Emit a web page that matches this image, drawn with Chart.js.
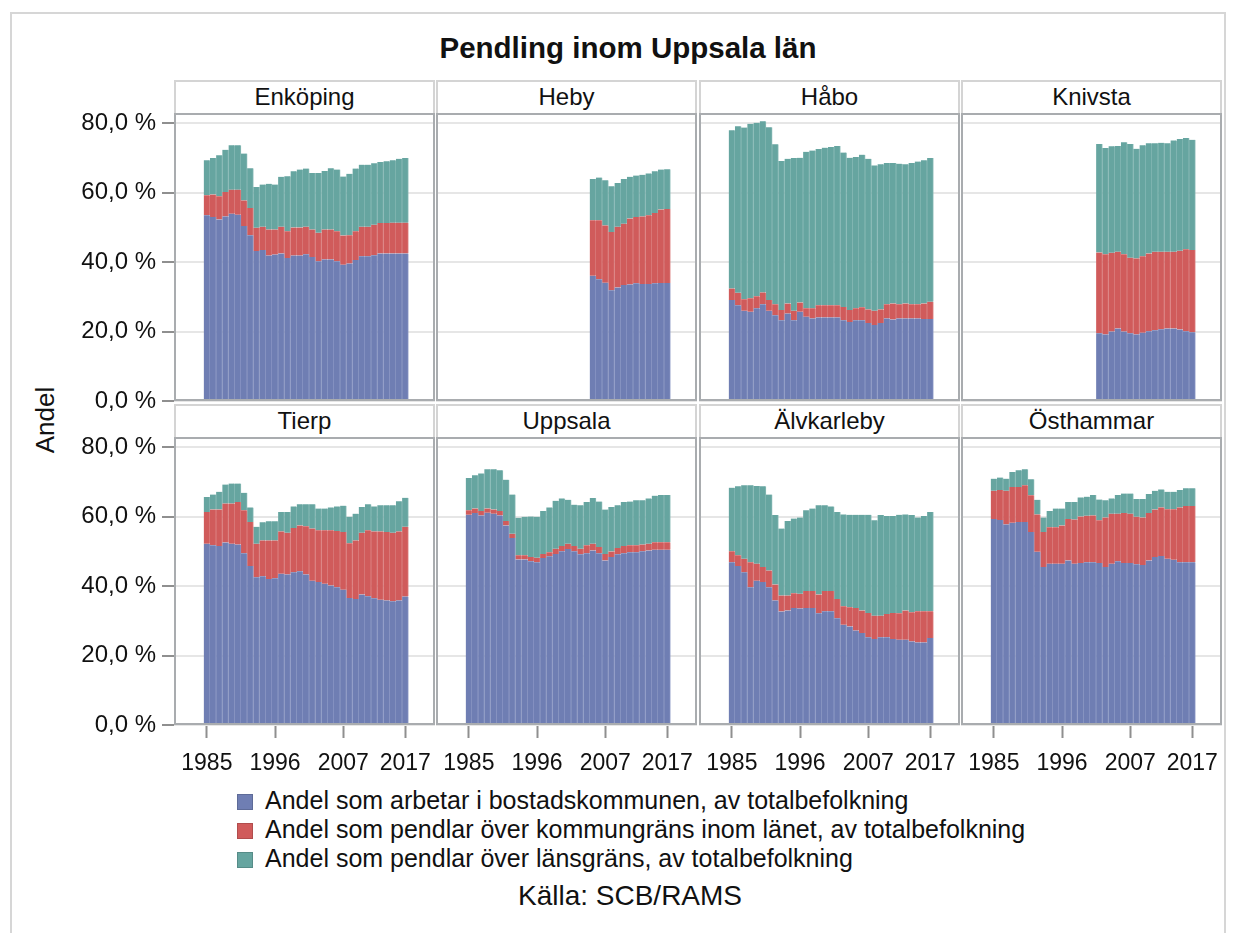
<!DOCTYPE html>
<html>
<head>
<meta charset="utf-8">
<script src="https://cdn.jsdelivr.net/npm/chart.js@4.4.1/dist/chart.umd.min.js"></script>
<style>
  body { margin: 0; background: #fff; font-family: "Liberation Sans", Arial, sans-serif; color: #111; }
  #page { position: relative; width: 1234px; height: 933px; overflow: hidden; }
  #frame { position: absolute; left: 10px; top: 12px; width: 1216px; height: 1000px; box-sizing: border-box; border: 2px solid #d6d6d6; }
  #title { position: absolute; left: 0; width: 1256px; top: 31px; text-align: center; font-weight: bold; font-size: 29.5px; }
  .strip { position: absolute; box-sizing: border-box; height: 34px; border: 2px solid #d4d4d4; border-bottom: none;
           background: #fff; text-align: center; font-size: 24px; line-height: 30px; }
  canvas { position: absolute; }
  #ylab { position: absolute; left: 45px; top: 420px; font-size: 26px; transform: translate(-50%, -50%) rotate(-90deg); }
  #legend { position: absolute; left: 237px; top: 786px; font-size: 25px; }
  .item { height: 29px; line-height: 29px; white-space: nowrap; }
  .sw { display: inline-block; width: 16px; height: 16px; margin-right: 12px; vertical-align: -1px; box-sizing: border-box; border: 1px solid rgba(0,0,0,0.15); }
  #source { position: absolute; left: 0; width: 1260px; top: 880px; text-align: center; font-size: 28px; }
</style>
</head>
<body>
<div id="page">
  <div id="frame"></div>
  <div id="title">Pendling inom Uppsala län</div>
  <div id="ylab">Andel</div>
  <div id="legend"></div>
  <div id="source">Källa: SCB/RAMS</div>
</div>
<script>
// years
const years = [1985,1986,1987,1988,1989,1990,1991,1992,1993,1994,1995,1996,1997,1998,1999,2000,
               2001,2002,2003,2004,2005,2006,2007,2008,2009,2010,2011,2012,2013,2014,2015,2016,2017];
const yearsHeby = [2005,2006,2007,2008,2009,2010,2011,2012,2013,2014,2015,2016,2017];
const yearsKnivsta = [2002,2003,2004,2005,2006,2007,2008,2009,2010,2011,2012,2013,2014,2015,2016,2017];

const kommuner = ["Enköping", "Heby", "Håbo", "Knivsta", "Tierp", "Uppsala", "Älvkarleby", "Östhammar"];
const seriesNames = [
  "Andel som arbetar i bostadskommunen, av totalbefolkning",
  "Andel som pendlar över kommungräns inom länet, av totalbefolkning",
  "Andel som pendlar över länsgräns, av totalbefolkning"
];
const yTicks = [0, 20, 40, 60, 80];
const xTicks = [1985, 1996, 2007, 2017];

// andel (%) per kommun: bostadskommun / inom länet / över länsgräns
const enkBostad = [53.5,53.0,52.3,53.2,54.0,53.7,50.4,47.8,43.2,43.5,41.9,42.2,42.5,41.2,41.9,41.9,42.3,41.5,40.3,40.8,40.8,40.3,39.3,39.6,40.6,41.7,41.7,42.0,42.5,42.5,42.5,42.5,42.5];
const enkLan    = [5.8,6.5,6.7,7.0,6.9,7.2,7.4,7.8,6.7,6.7,7.5,7.2,7.7,7.7,8.1,8.1,7.9,7.9,8.2,8.6,8.6,8.6,8.4,8.2,8.3,8.5,8.5,8.8,8.8,8.8,8.9,8.9,8.9];
const enkUt     = [10.1,10.5,11.8,12.2,12.8,12.8,13.5,11.5,11.8,12.2,13.2,13.0,14.4,15.9,16.2,16.7,16.8,16.3,17.2,16.9,17.7,17.8,17.0,17.7,18.1,17.9,17.9,17.7,17.6,17.8,18.0,18.4,18.6];

const hebBostad = [36.1,35.1,34.1,31.9,32.7,33.4,33.6,33.9,33.7,33.7,33.9,34.0,34.0];
const hebLan    = [16.0,17.0,16.5,16.8,17.5,17.7,19.0,19.1,19.5,19.8,20.3,21.2,21.3];
const hebUt     = [11.9,12.3,13.0,13.2,12.6,12.9,12.0,12.0,12.0,12.1,12.0,11.5,11.5];

const habBostad = [29.1,27.6,26.0,25.7,26.7,27.9,26.0,24.7,23.3,25.2,23.3,25.7,24.3,23.8,24.1,24.1,24.1,24.1,23.3,22.8,23.3,23.3,22.5,21.9,22.5,23.8,23.5,23.8,23.8,23.8,23.8,23.6,23.6];
const habLan    = [3.3,3.6,3.3,3.9,3.5,3.4,3.1,3.2,2.9,2.9,2.7,2.7,2.4,2.9,3.5,3.5,3.5,3.5,3.8,3.4,3.4,3.7,3.9,4.1,3.9,4.1,4.6,4.1,4.3,4.1,4.1,4.5,5.0];
const habUt     = [45.6,48.0,49.5,50.3,50.0,49.3,49.8,46.1,43.0,41.7,44.0,41.7,45.1,45.5,45.0,45.4,45.6,45.9,44.5,43.9,43.6,44.0,43.4,41.9,41.8,40.7,40.5,40.5,40.1,40.7,41.1,41.3,41.4];

const kniBostad = [19.5,19.2,20.0,20.9,20.0,19.5,19.2,19.7,20.1,20.4,20.7,20.9,20.9,20.6,20.1,19.8];
const kniLan    = [23.3,23.1,22.7,22.1,22.3,21.8,21.9,22.0,22.4,22.6,22.3,22.1,22.1,22.7,23.6,23.7];
const kniUt     = [31.3,30.6,30.7,30.5,32.3,32.8,31.6,32.0,31.8,31.3,31.4,31.3,32.1,32.2,32.1,31.8];

const tieBostad = [52.2,51.8,51.6,52.6,52.2,52.0,49.5,45.8,42.6,42.9,42.1,42.3,43.6,43.4,44.0,44.3,43.4,41.6,41.2,40.7,40.2,39.7,39.0,36.6,36.3,37.6,37.1,36.5,36.1,35.9,35.7,35.9,37.0];
const tieLan    = [9.2,10.3,10.5,11.2,11.6,12.3,12.4,12.7,9.6,10.3,11.1,10.9,12.2,12.0,12.8,13.2,13.9,15.0,14.9,15.4,15.9,16.2,16.6,15.8,16.9,17.8,19.0,19.3,19.7,19.7,19.7,19.9,20.1];
const tieUt     = [4.3,4.3,5.1,5.5,5.8,5.3,5.0,4.2,4.9,5.2,5.5,5.5,5.6,6.0,6.2,6.1,6.3,7.0,6.3,6.3,6.6,7.1,7.6,7.6,7.7,7.4,7.5,7.2,7.5,7.7,7.9,8.7,8.4];

const uppBostad = [60.6,61.1,60.4,61.2,60.9,60.4,57.5,53.9,47.7,47.7,47.2,46.9,48.1,48.6,49.3,50.1,50.7,50.1,49.2,49.5,50.3,49.5,47.4,48.4,49.2,49.5,49.8,49.8,50.1,50.3,50.5,50.5,50.5];
const uppLan    = [1.3,1.3,1.3,1.2,1.2,1.3,1.3,1.2,1.2,1.2,1.2,1.3,1.2,1.2,1.5,1.5,1.5,1.5,1.6,2.3,1.9,1.8,1.9,1.6,1.8,2.1,2.0,2.0,1.9,1.9,2.2,2.2,2.2];
const uppUt     = [9.3,9.6,10.8,11.3,11.6,11.7,11.9,11.3,10.8,11.1,11.7,11.8,12.4,12.9,13.8,13.7,12.7,11.9,12.5,12.5,13.2,13.1,12.8,12.8,12.3,12.7,12.6,13.0,12.8,13.1,13.4,13.6,13.6];

const alvBostad = [46.9,45.8,44.0,39.7,41.6,41.2,39.7,35.9,32.7,33.0,33.7,33.6,33.7,33.7,32.2,32.8,32.8,30.8,28.9,28.4,27.2,26.5,25.3,24.8,25.3,25.3,24.8,24.6,24.6,24.1,23.8,23.8,25.1];
const alvLan    = [3.2,3.1,3.9,7.2,4.9,4.3,4.8,4.6,4.6,4.3,4.3,4.2,4.9,4.9,5.4,5.8,5.8,5.5,5.3,5.5,6.5,6.5,7.0,6.7,6.2,6.7,7.5,7.6,8.4,8.4,9.0,9.0,7.7];
const alvUt     = [18.3,19.9,21.2,22.2,22.4,23.3,21.9,20.0,19.3,21.5,21.5,22.0,23.3,23.8,25.7,24.7,24.4,25.1,26.5,26.7,26.9,27.6,28.3,27.5,29.0,28.2,27.9,28.4,27.7,28.0,27.0,27.4,28.6];

const ostBostad = [59.4,59.1,57.8,58.3,58.5,58.5,55.6,49.9,45.5,46.5,46.5,46.5,47.4,46.5,46.7,46.9,46.9,46.7,45.5,46.5,47.2,46.7,46.7,46.3,46.1,47.4,48.4,48.7,47.9,47.6,46.9,46.9,46.9];
const ostLan    = [8.1,8.6,9.7,10.3,10.1,10.6,10.6,10.8,10.1,10.5,10.5,11.0,12.0,12.7,13.4,13.4,13.5,12.3,14.3,14.4,13.7,14.4,14.2,13.7,13.7,13.7,13.7,14.0,14.3,14.6,15.8,16.2,16.2];
const ostUt     = [3.5,3.6,3.5,4.3,4.8,4.6,4.6,4.2,4.2,4.7,5.4,4.9,4.9,5.1,5.5,5.5,5.9,6.0,5.0,4.4,5.4,5.6,5.8,5.1,5.3,5.5,5.4,5.2,5.0,5.0,5.0,5.1,5.1];

const panels = [
  { years: years,        values: [enkBostad, enkLan, enkUt] },
  { years: yearsHeby,    values: [hebBostad, hebLan, hebUt] },
  { years: years,        values: [habBostad, habLan, habUt] },
  { years: yearsKnivsta, values: [kniBostad, kniLan, kniUt] },
  { years: years,        values: [tieBostad, tieLan, tieUt] },
  { years: years,        values: [uppBostad, uppLan, uppUt] },
  { years: years,        values: [alvBostad, alvLan, alvUt] },
  { years: years,        values: [ostBostad, ostLan, ostUt] }
];

// utseende
const FILL = ["#6f7eb3", "#d05b5b", "#66a5a0"];
const EDGE = ["#8d99c5", "#dc8080", "#88bab6"];
const FRAME = "#a9acaf";
const GRID = "#e6e6e6";

const COL_X = [174, 436, 699, 961];
const ROW_Y = [113, 437];
const PW = 261, PH = 288;
const AXIS_W = 114, AXIS_H = 62, M = 20, R = 10;
const X_MIN = 1979.7, X_MAX = 2021.8, Y_MAX = 83;

Chart.defaults.font.family = '"Liberation Sans", Arial, sans-serif';
Chart.defaults.color = "#111";

function zeroPad(s) {
  s.paddingLeft = 0; s.paddingRight = 0; s.paddingTop = 0; s.paddingBottom = 0;
}

const framePlugin = {
  id: "frame",
  afterDraw(chart) {
    const { ctx, chartArea: a } = chart;
    ctx.save();
    ctx.strokeStyle = FRAME;
    ctx.lineWidth = 2;
    ctx.strokeRect(a.left + 1, a.top + 1, a.right - a.left - 2, a.bottom - a.top - 2);
    ctx.restore();
  }
};

const page = document.getElementById("page");

// legend
const legend = document.getElementById("legend");
seriesNames.forEach((name, s) => {
  const row = document.createElement("div");
  row.className = "item";
  row.innerHTML = `<span class="sw" style="background:${FILL[s]}"></span>${name}`;
  legend.appendChild(row);
});

panels.forEach((p, idx) => {
  const col = idx % 4, row = Math.floor(idx / 4);
  const isLeft = col === 0, isBottom = row === 1;

  const strip = document.createElement("div");
  strip.className = "strip";
  strip.style.left = COL_X[col] + "px";
  strip.style.top = (ROW_Y[row] - 33) + "px";
  strip.style.width = PW + "px";
  strip.textContent = kommuner[idx];
  page.appendChild(strip);

  const padL = isLeft ? AXIS_W : 0;
  const canvas = document.createElement("canvas");
  canvas.width = padL + PW + R;
  canvas.height = M + PH + (isBottom ? AXIS_H : M);
  canvas.style.left = (COL_X[col] - padL) + "px";
  canvas.style.top = (ROW_Y[row] - M) + "px";
  page.appendChild(canvas);

  new Chart(canvas, {
    type: "bar",
    data: {
      datasets: seriesNames.map((name, s) => ({
        label: name,
        data: p.years.map((yr, i) => ({ x: yr, y: p.values[s][i] })),
        backgroundColor: FILL[s],
        borderColor: EDGE[s],
        borderWidth: { left: 0, right: 1, top: 0, bottom: 0 },
        borderSkipped: false,
        barPercentage: 1,
        categoryPercentage: 1
      }))
    },
    options: {
      responsive: false,
      animation: false,
      devicePixelRatio: 1,
      layout: { padding: { top: M, bottom: isBottom ? 0 : M, left: 0, right: R } },
      plugins: { legend: { display: false }, tooltip: { enabled: false } },
      scales: {
        x: {
          type: "linear",
          stacked: true,
          offset: false,
          min: X_MIN,
          max: X_MAX,
          display: isBottom,
          afterBuildTicks: s => { s.ticks = xTicks.map(v => ({ value: v })); },
          afterFit: s => { s.height = isBottom ? AXIS_H : 0; zeroPad(s); },
          grid: { offset: false, drawOnChartArea: false, drawTicks: true, tickLength: 13, tickColor: "#8f8f8f", tickWidth: 2 },
          border: { display: false },
          ticks: { padding: 12, color: "#111", font: { size: 23 }, maxRotation: 0, callback: v => String(v) }
        },
        y: {
          stacked: true,
          min: 0,
          max: Y_MAX,
          afterBuildTicks: s => { s.ticks = yTicks.map(v => ({ value: v })); },
          afterFit: s => { s.width = isLeft ? AXIS_W : 0; zeroPad(s); },
          grid: { color: GRID, lineWidth: 2, drawTicks: isLeft, tickLength: 12, tickColor: "#8f8f8f", tickWidth: 2 },
          border: { display: false },
          ticks: {
            display: isLeft,
            padding: 6,
            color: "#111",
            font: { size: 24 },
            callback: v => v.toFixed(1).replace(".", ",") + " %"
          }
        }
      }
    },
    plugins: [framePlugin]
  });
});
</script>
</body>
</html>
